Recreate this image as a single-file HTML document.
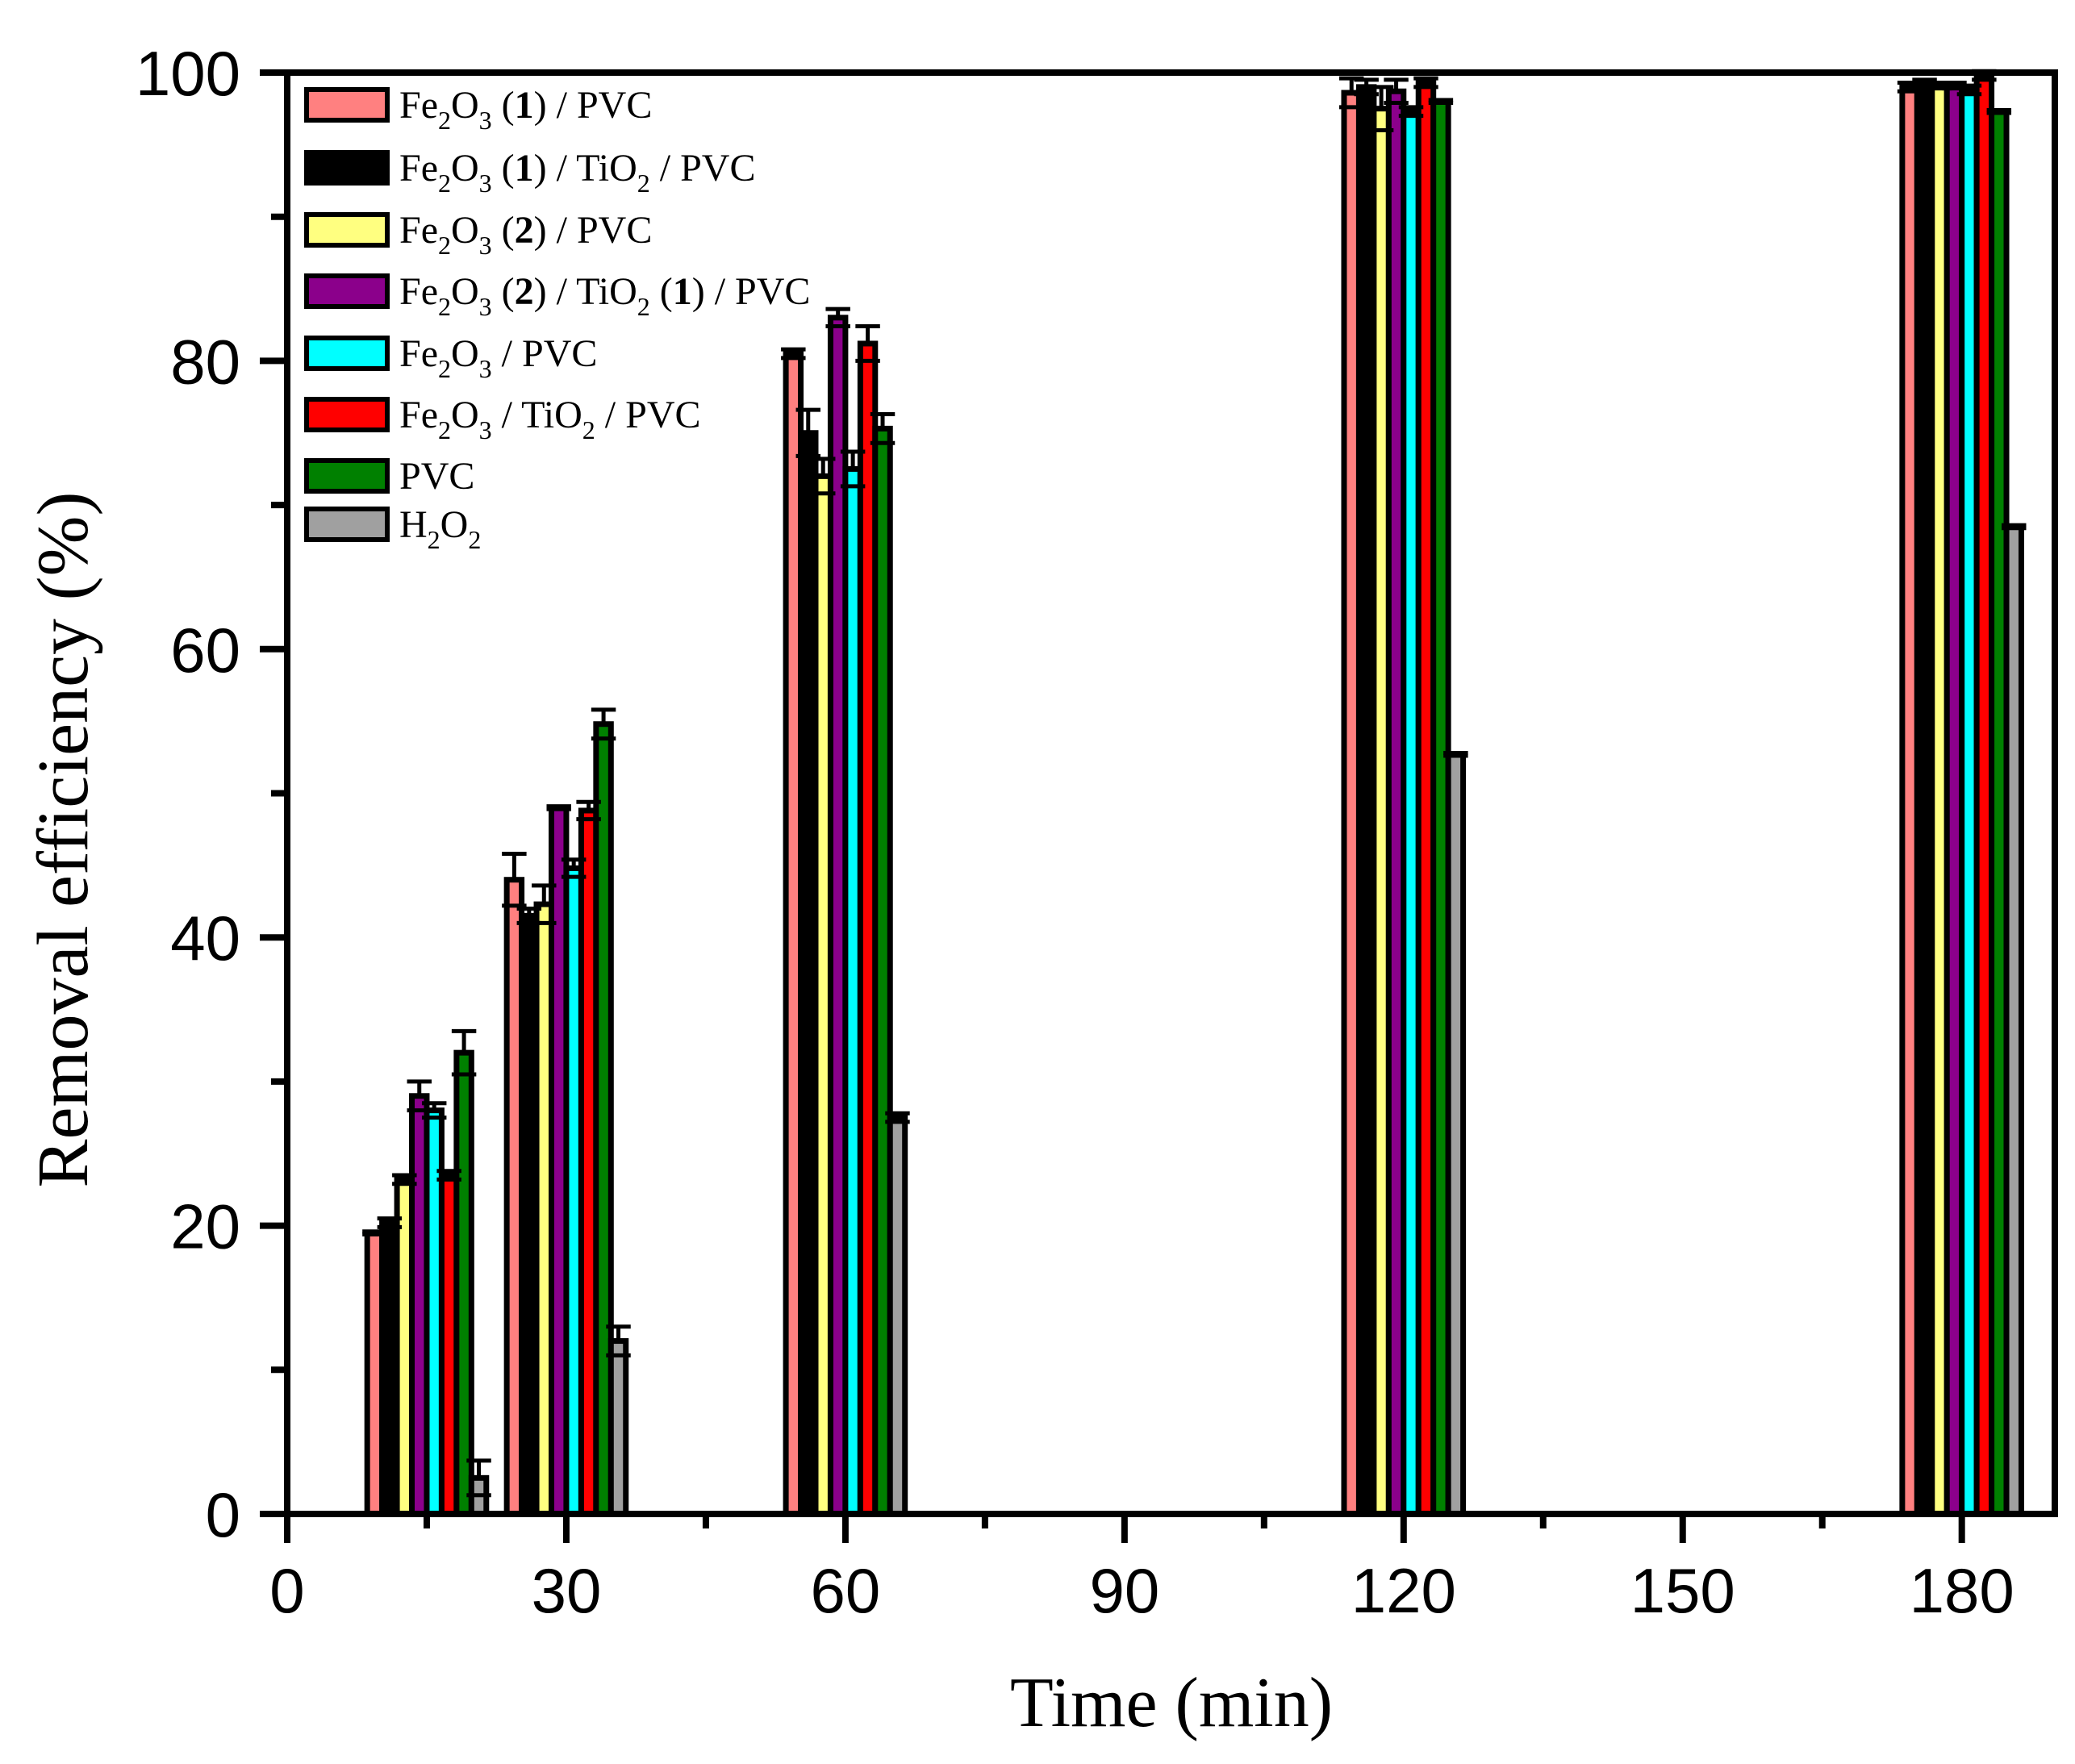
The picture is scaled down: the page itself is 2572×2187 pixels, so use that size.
<!DOCTYPE html>
<html><head><meta charset="utf-8"><style>
html,body{margin:0;padding:0;background:#fff;}
svg{display:block;}
</style></head><body>
<svg id="chart" width="2572" height="2187" viewBox="0 0 2572 2187" xmlns="http://www.w3.org/2000/svg">
<g id="bars"></g>
<g id="axes"></g>
<g id="legend"></g>
<text x="1452" y="2140" text-anchor="middle" font-family="Liberation Serif, serif" font-size="88">Time (min)</text>
<text x="0" y="0" transform="translate(108,1041) rotate(-90)" text-anchor="middle" font-family="Liberation Serif, serif" font-size="90">Removal efficiency (%)</text>
</svg>
<script>
const times = [15, 30, 60, 120, 180];
const seriesNames = ["Fe2O3 (1) / PVC","Fe2O3 (1) / TiO2 / PVC","Fe2O3 (2) / PVC","Fe2O3 (2) / TiO2 (1) / PVC","Fe2O3 / PVC","Fe2O3 / TiO2 / PVC","PVC","H2O2"];
const colors = ["#ff8080","#000000","#ffff80","#8b008b","#00ffff","#ff0000","#008000","#a0a0a0"];
const valFe1 = [19.5, 44.0, 80.5, 98.6, 99.0];
const valFe1Ti = [20.2, 41.5, 75.0, 99.0, 99.3];
const valFe2 = [23.2, 42.3, 72.0, 97.5, 99.1];
const valFe2Ti = [29.0, 49.0, 83.0, 98.7, 99.1];
const valFe = [28.0, 44.8, 72.5, 97.3, 98.8];
const valFeTi = [23.5, 48.8, 81.2, 99.3, 99.8];
const valPVC = [32.0, 54.8, 75.3, 98.0, 97.3];
const valH2O2 = [2.5, 12.0, 27.5, 52.7, 68.5];
const errFe1 = [0.1, 1.8, 0.3, 1.0, 0.3];
const errFe1Ti = [0.3, 0.5, 1.6, 0.5, 0.2];
const errFe2 = [0.3, 1.3, 1.2, 1.5, 0.2];
const errFe2Ti = [1.0, 0.1, 0.6, 0.8, 0.2];
const errFe = [0.5, 0.6, 1.2, 0.3, 0.3];
const errFeTi = [0.3, 0.6, 1.2, 0.3, 0.3];
const errPVC = [1.5, 1.0, 1.0, 0.1, 0.1];
const errH2O2 = [1.2, 1.0, 0.3, 0.1, 0.1];
const yTicks = [0, 20, 40, 60, 80, 100];
const xTicks = [0, 30, 60, 90, 120, 150, 180];

const values = [valFe1,valFe1Ti,valFe2,valFe2Ti,valFe,valFeTi,valPVC,valH2O2];
const errs = [errFe1,errFe1Ti,errFe2,errFe2Ti,errFe,errFeTi,errPVC,errH2O2];
const NS = "http://www.w3.org/2000/svg";
const L = 356, R = 2547, T = 90, B = 1877;
const xMin = 0, xMax = 190, yMin = 0, yMax = 100;
const xs = t => L + (t - xMin) / (xMax - xMin) * (R - L);
const ys = v => B - (v - yMin) / (yMax - yMin) * (B - T);
const barW = 1.6;
function mk(tag, attrs, parent){const e=document.createElementNS(NS,tag);for(const k in attrs)e.setAttribute(k,attrs[k]);parent.appendChild(e);return e;}

const gb = document.getElementById('bars');
for (let s = 0; s < values.length; s++) {
  for (let i = 0; i < times.length; i++) {
    const t0 = times[i] + (s - 4) * barW;
    const x0 = xs(t0), x1 = xs(t0 + barW);
    const y = ys(values[s][i]);
    const r = mk('rect', {x:x0, y:y, width:x1-x0, height:B-y, fill:colors[s], stroke:'#000', 'stroke-width':7}, gb);
    
    
  }
}
for (let s = 0; s < values.length; s++) {
  for (let i = 0; i < times.length; i++) {
    const t0 = times[i] + (s - 4) * barW;
    const cx = xs(t0 + barW/2);
    const hw = (xs(t0 + barW) - xs(t0)) / 2 + 6;
    const yt = ys(values[s][i] + errs[s][i]), yb = ys(values[s][i] - errs[s][i]);
    const g = mk('g', {stroke:'#000', 'stroke-width':5}, gb);
    
    
    mk('line', {x1:cx, x2:cx, y1:yt, y2:ys(values[s][i])}, g);
    mk('line', {x1:cx-hw, x2:cx+hw, y1:yt, y2:yt}, g);
    mk('line', {x1:cx-hw, x2:cx+hw, y1:yb, y2:yb}, g);
  }
}

const ga = document.getElementById('axes');
const frame = mk('rect', {x:L, y:T, width:R-L, height:B-T, fill:'none', stroke:'#000', 'stroke-width':8}, ga);


for (let v = 0; v <= 100; v += 10) {
  const major = v % 20 === 0;
  mk('line', {x1:L - (major ? 34 : 20), x2:L, y1:ys(v), y2:ys(v), stroke:'#000', 'stroke-width':8}, ga);
}
yTicks.forEach(v => {
  const t = mk('text', {x:298, y:ys(v) + 28, 'text-anchor':'end', 'font-family':'Liberation Sans, sans-serif', 'font-size':78}, ga);
  t.textContent = v;
  
  
});
for (let v = 0; v <= 180; v += 15) {
  const major = v % 30 === 0;
  mk('line', {x1:xs(v), x2:xs(v), y1:B, y2:B + (major ? 36 : 18), stroke:'#000', 'stroke-width':8}, ga);
}
xTicks.forEach(v => {
  const t = mk('text', {x:xs(v), y:1999, 'text-anchor':'middle', 'font-family':'Liberation Sans, sans-serif', 'font-size':78}, ga);
  t.textContent = v;
  
  
});

const legendRows = [
  [["Fe",0],["2",1],["O",0],["3",1],[" (",0],["1",2],[") / PVC",0]],
  [["Fe",0],["2",1],["O",0],["3",1],[" (",0],["1",2],[") / TiO",0],["2",1],[" / PVC",0]],
  [["Fe",0],["2",1],["O",0],["3",1],[" (",0],["2",2],[") / PVC",0]],
  [["Fe",0],["2",1],["O",0],["3",1],[" (",0],["2",2],[") / TiO",0],["2",1],[" (",0],["1",2],[") / PVC",0]],
  [["Fe",0],["2",1],["O",0],["3",1],[" / PVC",0]],
  [["Fe",0],["2",1],["O",0],["3",1],[" / TiO",0],["2",1],[" / PVC",0]],
  [["PVC",0]],
  [["H",0],["2",1],["O",0],["2",1]]
];
const legendY = [130,208,285,361,438,514,590,650];
const gl = document.getElementById('legend');
legendRows.forEach((row, k) => {
  const g = mk('g', {}, gl);
  
  
  mk('rect', {x:380, y:legendY[k]-19, width:100, height:38, fill:colors[k], stroke:'#000', 'stroke-width':6}, g);
  const t = mk('text', {x:495, y:legendY[k]+16, 'font-family':'Liberation Serif, serif', 'font-size':48}, g);
  row.forEach(([str, kind]) => {
    const sp = document.createElementNS(NS, 'tspan');
    sp.textContent = str;
    if (kind === 1) { sp.setAttribute('font-size', 32); sp.setAttribute('baseline-shift', '-14'); }
    if (kind === 2) { sp.setAttribute('font-weight', 'bold'); }
    t.appendChild(sp);
  });
});
</script>
</body></html>
